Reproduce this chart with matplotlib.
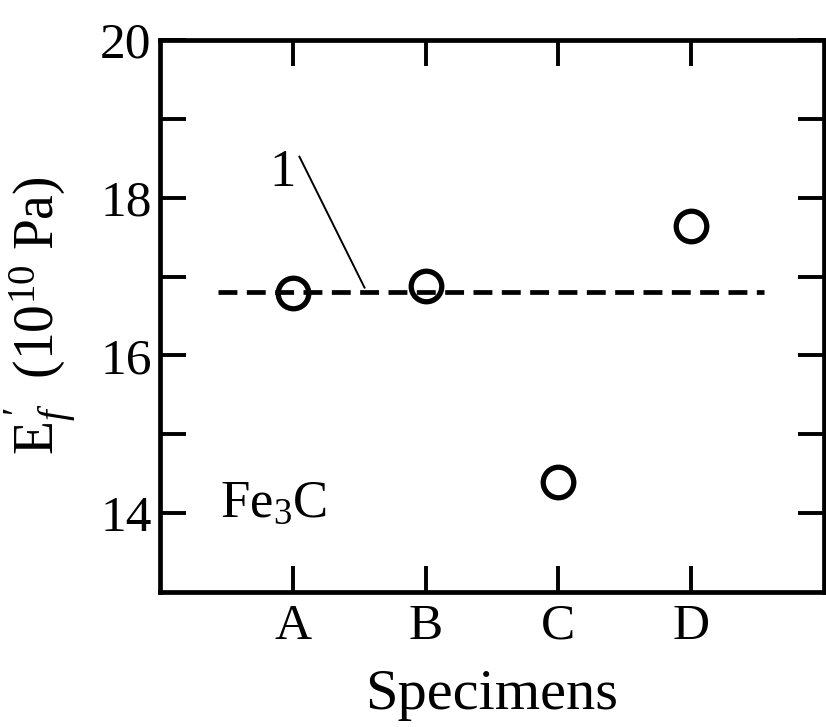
import numpy as np
import matplotlib.pyplot as plt

plt.rcParams['font.family'] = ['Liberation Serif', 'DejaVu Serif']
plt.rcParams['mathtext.fontset'] = 'custom'
plt.rcParams['mathtext.rm'] = 'Liberation Serif'
plt.rcParams['mathtext.it'] = 'Liberation Serif:italic'

specimens = ['A', 'B', 'C', 'D']
xpos = [1, 2, 3, 4]
modulus = [16.79, 16.88, 14.39, 17.64]

# dashed reference line "1"
line_x = [0.44, 4.55]
line_y = [16.81, 16.81]

fig = plt.figure(figsize=(8.26, 7.27), dpi=100)
ax = fig.add_axes([0.1937, 0.1857, 0.8039, 0.7593])

ax.plot(line_x, line_y, color='black', linestyle=(0, (4, 2.0)), linewidth=3.4)
ax.plot(xpos, modulus, linestyle='none', marker='o', markersize=22,
        markerfacecolor='none', markeredgecolor='black', markeredgewidth=3.8)

# label 1 with leader line
ax.text(0.92, 18.31, '1', fontsize=38, ha='center', va='center')
ax.plot([1.05, 1.54], [18.52, 16.86], color='black', linewidth=1.4)
ax.text(0.45, 14.12, 'Fe$_3$C', fontsize=38, ha='left', va='center')

ax.set_xlim(0, 5)
ax.set_ylim(13, 20)
ax.set_xticks(xpos)
ax.set_xticklabels(specimens)
ax.set_yticks([14, 16, 18, 20])
ax.set_yticks([15, 17, 19], minor=True)

ax.tick_params(axis='both', which='both', direction='in', length=19, width=2.8,
               labelsize=37, top=True, right=True)
ax.tick_params(axis='x', pad=8)
ax.tick_params(axis='y', pad=6)
for s in ax.spines.values():
    s.set_linewidth(3.4)

ax.set_xlabel('Specimens', fontsize=42, labelpad=14)
ax.set_ylabel(r"$\mathrm{E}_f^{\,\prime}$  (10$^{10}$ Pa)", fontsize=40, labelpad=16)

fig.savefig('out.png', dpi=100)
